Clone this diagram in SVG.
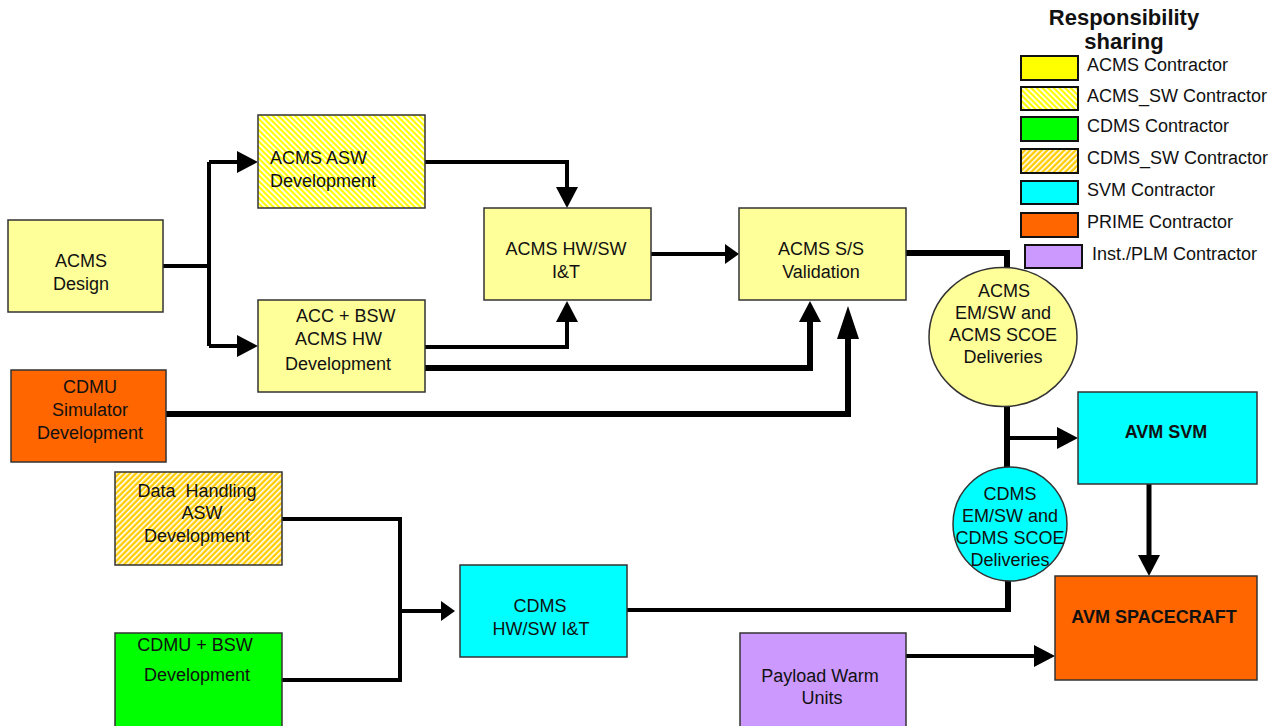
<svg xmlns="http://www.w3.org/2000/svg" width="1281" height="726" viewBox="0 0 1281 726">
<style>
text{font-family:"Liberation Sans",Arial,sans-serif;font-size:18px;fill:#111;}
.m{text-anchor:middle;}
.b{font-weight:bold;}
.box{stroke:#333;stroke-width:1.5;}
.sw{stroke:#111;stroke-width:2;}
.c{fill:none;stroke:#000;stroke-width:4;}
.k{stroke-width:6;}
.y{fill:#ffff99;}
.cy{fill:#00ffff;}
.or{fill:#ff6600;}
</style>
<defs>
<pattern id="hatchY" patternUnits="userSpaceOnUse" width="4" height="4" patternTransform="rotate(-45)">
<rect width="4" height="4" fill="#ffff00"/><rect width="1.8" height="4" fill="#ffffff"/>
</pattern>
<pattern id="hatchO" patternUnits="userSpaceOnUse" width="4" height="4" patternTransform="rotate(45)">
<rect width="4" height="4" fill="#ffcc00"/><rect width="1.6" height="4" fill="#ffffff"/>
</pattern>
<marker id="ah" viewBox="0 0 21 22" refX="0" refY="11" markerWidth="21" markerHeight="22" orient="auto" markerUnits="userSpaceOnUse">
<path d="M0,0 L21,11 L0,22 z" fill="#000"/>
</marker>
<marker id="ahS" viewBox="0 0 14 20" refX="0" refY="10" markerWidth="14" markerHeight="20" orient="auto" markerUnits="userSpaceOnUse">
<path d="M0,0 L14,10 L0,20 z" fill="#000"/>
</marker>
<marker id="ahL" viewBox="0 0 33 22" refX="0" refY="11" markerWidth="33" markerHeight="22" orient="auto" markerUnits="userSpaceOnUse">
<path d="M0,0 L33,11 L0,22 z" fill="#000"/>
</marker>
</defs>
<rect width="1281" height="726" fill="#ffffff"/>

<g id="connectors">
<path class="c" d="M163,266 H209"/>
<path class="c" d="M209,162 V346"/>
<path class="c" d="M209,162 H237" marker-end="url(#ah)"/>
<path class="c" d="M209,346 H237" marker-end="url(#ah)"/>
<path class="c" d="M425,162 H567 V187" marker-end="url(#ah)"/>
<path class="c" d="M425,347 H567 V322" marker-end="url(#ah)"/>
<path class="c k" d="M425,368 H810 V322" marker-end="url(#ah)"/>
<path class="c k" d="M166,414 H848 V339" marker-end="url(#ahL)"/>
<path class="c" d="M651,254 H725" marker-end="url(#ahS)"/>
<path class="c k" d="M906,253 H1007 V275"/>
<path class="c k" d="M1007,400 V475"/>
<path class="c" d="M1007,438 H1057" marker-end="url(#ah)"/>
<path class="c" d="M627,610 H1008"/>
<path class="c k" d="M1008,612 V575"/>
<path class="c" d="M1149,484 V555" marker-end="url(#ah)" style="stroke-width:5"/>
<path class="c" d="M906,656 H1034" marker-end="url(#ah)"/>
<path class="c" d="M282,519 H400 V680 H282"/>
<path class="c" d="M400,611 H441" marker-end="url(#ahS)"/>
</g>

<g id="acms-design">
<rect class="box y" x="8" y="220" width="155" height="92"/>
<text class="m" x="81" y="267">ACMS</text>
<text class="m" x="81" y="290">Design</text>
</g>

<g id="acms-asw">
<rect class="box" x="258" y="115" width="167" height="93" fill="url(#hatchY)"/>
<text x="270" y="164">ACMS ASW</text>
<text x="270" y="187">Development</text>
</g>

<g id="acc-bsw">
<rect class="box y" x="258" y="300" width="167" height="92"/>
<text x="296" y="322">ACC + BSW</text>
<text x="295" y="345">ACMS HW</text>
<text x="285" y="370">Development</text>
</g>

<g id="acms-hwsw">
<rect class="box y" x="484" y="208" width="167" height="92"/>
<text class="m" x="566" y="255">ACMS HW/SW</text>
<text class="m" x="566" y="278">I&amp;T</text>
</g>

<g id="acms-validation">
<rect class="box y" x="739" y="208" width="167" height="92"/>
<text class="m" x="821" y="255">ACMS S/S</text>
<text class="m" x="821" y="278">Validation</text>
</g>

<g id="cdmu-simulator">
<rect class="box or" x="11" y="370" width="155" height="92"/>
<text class="m" x="90" y="393">CDMU</text>
<text class="m" x="90" y="416">Simulator</text>
<text class="m" x="90" y="439">Development</text>
</g>

<g id="data-handling">
<rect class="box" x="115" y="472" width="167" height="93" fill="url(#hatchO)"/>
<text class="m" x="197" y="497" xml:space="preserve">Data  Handling</text>
<text class="m" x="202" y="519">ASW</text>
<text class="m" x="197" y="542">Development</text>
</g>

<g id="cdmu-bsw">
<rect class="box" x="115" y="633" width="167" height="95" fill="#00ff00"/>
<text class="m" x="195" y="651">CDMU + BSW</text>
<text class="m" x="197" y="681">Development</text>
</g>

<g id="cdms-hwsw">
<rect class="box cy" x="460" y="565" width="167" height="92"/>
<text class="m" x="540" y="612">CDMS</text>
<text class="m" x="541" y="635">HW/SW I&amp;T</text>
</g>

<g id="acms-deliveries">
<ellipse class="box y" cx="1003" cy="337" rx="74" ry="69.5"/>
<text class="m" x="1004" y="297">ACMS</text>
<text class="m" x="1003" y="319">EM/SW and</text>
<text class="m" x="1003" y="341">ACMS SCOE</text>
<text class="m" x="1003" y="363">Deliveries</text>
</g>

<g id="cdms-deliveries">
<ellipse class="box cy" cx="1010" cy="524" rx="57" ry="57"/>
<text class="m" x="1010" y="500">CDMS</text>
<text class="m" x="1010" y="522">EM/SW and</text>
<text class="m" x="1010" y="544">CDMS SCOE</text>
<text class="m" x="1010" y="566">Deliveries</text>
</g>

<g id="avm-svm">
<rect class="box cy" x="1078" y="392" width="179" height="92"/>
<text class="m b" x="1166" y="438">AVM SVM</text>
</g>

<g id="avm-spacecraft">
<rect class="box or" x="1055" y="576" width="202" height="104"/>
<text class="m b" x="1154" y="623">AVM SPACECRAFT</text>
</g>

<g id="payload">
<rect class="box" x="740" y="633" width="166" height="95" fill="#cc99ff"/>
<text class="m" x="820" y="682">Payload Warm</text>
<text class="m" x="822" y="704">Units</text>
</g>

<g id="legend">
<text class="m b" x="1124" y="25" style="font-size:22px">Responsibility</text>
<text class="m b" x="1124" y="49" style="font-size:22px">sharing</text>
<rect class="sw" x="1021" y="56" width="57" height="24" fill="#ffff00"/>
<text x="1087" y="71">ACMS Contractor</text>
<rect class="sw" x="1021" y="87" width="57" height="23" fill="url(#hatchY)"/>
<text x="1087" y="102">ACMS_SW Contractor</text>
<rect class="sw" x="1021" y="117" width="57" height="24" fill="#00ff00"/>
<text x="1087" y="132">CDMS Contractor</text>
<rect class="sw" x="1021" y="149" width="57" height="24" fill="url(#hatchO)"/>
<text x="1087" y="164">CDMS_SW Contractor</text>
<rect class="sw" x="1021" y="181" width="57" height="23" fill="#00ffff"/>
<text x="1087" y="196">SVM Contractor</text>
<rect class="sw" x="1021" y="213" width="57" height="24" fill="#ff6600"/>
<text x="1087" y="228">PRIME Contractor</text>
<rect class="sw" x="1025" y="245" width="57" height="23" fill="#cc99ff"/>
<text x="1092" y="260">Inst./PLM Contractor</text>
</g>
</svg>
